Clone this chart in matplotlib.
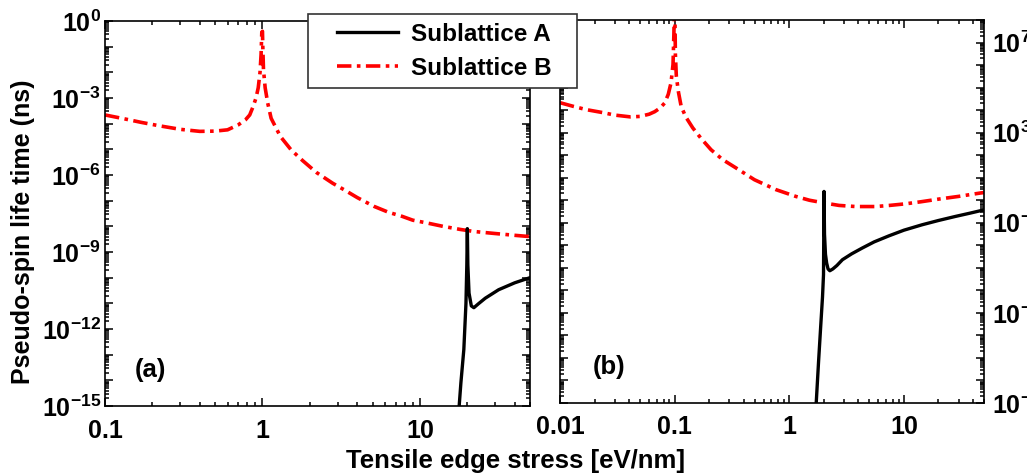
import matplotlib
matplotlib.use("Agg")
import matplotlib.pyplot as plt
import numpy as np
from matplotlib.patches import Rectangle
from matplotlib.ticker import FixedLocator, LogLocator, FuncFormatter, NullFormatter

plt.rcParams['font.family'] = ['Liberation Sans', 'DejaVu Sans']
plt.rcParams['font.weight'] = 'bold'
plt.rcParams['mathtext.fontset'] = 'custom'
plt.rcParams['mathtext.rm'] = 'Liberation Sans:bold'
plt.rcParams['mathtext.it'] = 'Liberation Sans:bold:italic'
plt.rcParams['mathtext.bf'] = 'Liberation Sans:bold'

# panel (a): stress [eV/nm] vs log10 of life time [ns]
a_red_x = [0.1, 0.13, 0.17, 0.22, 0.3, 0.4, 0.5, 0.6, 0.7, 0.78, 0.83, 0.87, 0.91,
           0.94, 0.965, 0.98, 0.99, 1.0, 1.005, 1.015, 1.04, 1.08, 1.135, 1.3, 1.52,
           1.8, 2.2, 2.79, 3.31, 4.0, 5.1, 6.3, 7.7, 9.0, 11.1, 14, 18, 22, 30, 40, 50]
a_red_exp = [-3.66, -3.8, -3.95, -4.08, -4.22, -4.3, -4.29, -4.24, -4.05, -3.85, -3.66,
             -3.35, -3.0, -2.6, -2.0, -1.3, -0.45, -0.4, -1.0, -1.9, -2.6, -3.2, -3.79,
             -4.5, -5.02, -5.44, -5.9, -6.32, -6.58, -6.88, -7.22, -7.45, -7.61, -7.76,
             -7.87, -8.0, -8.12, -8.2, -8.28, -8.35, -8.4]
a_blk_x = [17.6, 18.2, 19.0, 19.6, 19.85, 20.0, 20.15, 20.5, 21.2, 22.0, 23.6, 26,
           31.6, 40, 50]
a_blk_exp = [-15.3, -14.1, -12.8, -11.0, -9.5, -8.09, -9.5, -10.6, -11.1, -11.17,
             -11.01, -10.8, -10.47, -10.2, -10.0]

# panel (b)
b_red_x = [0.01, 0.013, 0.017, 0.0236, 0.03, 0.041, 0.05, 0.06, 0.067, 0.075, 0.082,
           0.088, 0.093, 0.0968, 0.0985, 0.0995, 0.1005, 0.1015, 0.1035, 0.108, 0.114,
           0.125, 0.144, 0.171, 0.208, 0.263, 0.344, 0.497, 0.766, 1.14, 1.5, 2.01,
           2.72, 3.8, 5.68, 7.5, 10.3, 14, 20.1, 30, 46.4, 50]
b_red_exp = [4.33, 4.17, 4.02, 3.89, 3.78, 3.70, 3.72, 3.82, 3.93, 4.1, 4.32, 4.7,
             5.21, 6.02, 7.36, 8.5, 8.5, 6.5, 5.5, 4.8, 4.17, 3.7, 3.21, 2.73, 2.24,
             1.8, 1.43, 0.91, 0.47, 0.17, 0.0, -0.12, -0.23, -0.28, -0.28, -0.23,
             -0.16, -0.07, 0.05, 0.17, 0.32, 0.34]
b_blk_x = [1.71, 1.8, 1.88, 1.95, 1.99, 2.0, 2.01, 2.03, 2.07, 2.12, 2.18, 2.26, 2.4,
           2.6, 2.91, 3.5, 4.34, 5.5, 7.41, 10, 14.4, 20, 28.1, 38, 47.9, 50]
b_blk_exp = [-9.2, -7.2, -5.61, -4.3, -3.3, -1.5, 0.39, -1.5, -2.4, -2.79, -3.05,
             -3.13, -3.05, -2.9, -2.64, -2.38, -2.12, -1.85, -1.58, -1.33, -1.09, -0.9,
             -0.72, -0.57, -0.45, -0.43]

fig = plt.figure(figsize=(10.27, 4.76), dpi=100)
ax1 = fig.add_axes([105/1027, 1-406/476, 425/1027, 385/476])
ax2 = fig.add_axes([560/1027, 1-403/476, 424/1027, 383/476])

dash = (4, 1.5, 1, 1.5)
ax1.plot(a_red_x, 10**np.array(a_red_exp), color='red', lw=2.6, dashes=dash)
ax1.plot(a_blk_x, 10**np.array(a_blk_exp), color='black', lw=2.4)
lb, = ax2.plot(b_red_x, 10**np.array(b_red_exp), color='red', lw=2.6, dashes=dash,
               label='Sublattice B')
la, = ax2.plot(b_blk_x, 10**np.array(b_blk_exp), color='black', lw=2.4,
               label='Sublattice A')

ax1.set_xscale('log')
ax1.set_yscale('log')
ax1.set_xlim(0.1, 50)
ax1.set_ylim(1e-15, 1)
ax2.set_xscale('log')
ax2.set_yscale('log')
ax2.set_xlim(0.01, 50)
ax2.set_ylim(1e-9, 1e8)


def fmt_every(step, rem):
    def f(v, pos):
        e = int(round(np.log10(v)))
        if e % step == rem:
            return r'$10^{%d}$' % e
        return ''
    return FuncFormatter(f)


ax1.yaxis.set_major_locator(FixedLocator([10.0**e for e in range(-15, 1)]))
ax1.yaxis.set_major_formatter(fmt_every(3, 0))
ax2.yaxis.set_major_locator(FixedLocator([10.0**e for e in range(-9, 9)]))
ax2.yaxis.set_major_formatter(fmt_every(4, 3))

for ax in (ax1, ax2):
    ax.yaxis.set_minor_locator(LogLocator(base=10, subs=np.arange(2, 10), numticks=200))
    ax.yaxis.set_minor_formatter(NullFormatter())
    ax.xaxis.set_minor_locator(LogLocator(base=10, subs=np.arange(2, 10), numticks=200))
    ax.xaxis.set_minor_formatter(NullFormatter())
    ax.xaxis.set_major_formatter(FuncFormatter(lambda v, p: ('%g' % v)))
    ax.tick_params(which='both', direction='in', top=True, right=True, width=1.1,
                   labelsize=18)
    ax.tick_params(which='major', length=6)
    ax.tick_params(which='minor', length=3)
    ax.tick_params(axis='x', pad=9)
    for s in ax.spines.values():
        s.set_linewidth(1.2)

ax1.tick_params(axis='y', pad=3)
ax2.tick_params(axis='y', labelleft=False, labelright=True, pad=6)

ax1.text(0.07, 0.094, '(a)', transform=ax1.transAxes, fontsize=18.5,
         fontweight='bold', va='center')
ax2.text(0.078, 0.094, '(b)', transform=ax2.transAxes, fontsize=18.5,
         fontweight='bold', va='center')

fig.text(23/1027, 1-232/476, 'Pseudo-spin life time (ns)', rotation=90,
         fontsize=18, fontweight='bold', ha='center', va='center')
fig.text(516/1027, 1-461/476, 'Tensile edge stress [eV/nm]', fontsize=18.5,
         fontweight='bold', ha='center', va='center')

# legend frame drawn separately so its padding can follow the original
box = Rectangle((308/1027, 1-88/476), 269/1027, 74/476, transform=fig.transFigure,
                facecolor='white', edgecolor='#333333', lw=1.2, zorder=9)
fig.add_artist(box)
leg = fig.legend([la, lb], ['Sublattice A', 'Sublattice B'],
                 loc='upper left', bbox_to_anchor=(337/1027, 1-23/476),
                 fontsize=17.5, handlelength=2.5, handletextpad=0.55,
                 frameon=False, borderpad=0, labelspacing=0.45, borderaxespad=0)
leg.set_zorder(10)

fig.savefig('out.png', dpi=100)
